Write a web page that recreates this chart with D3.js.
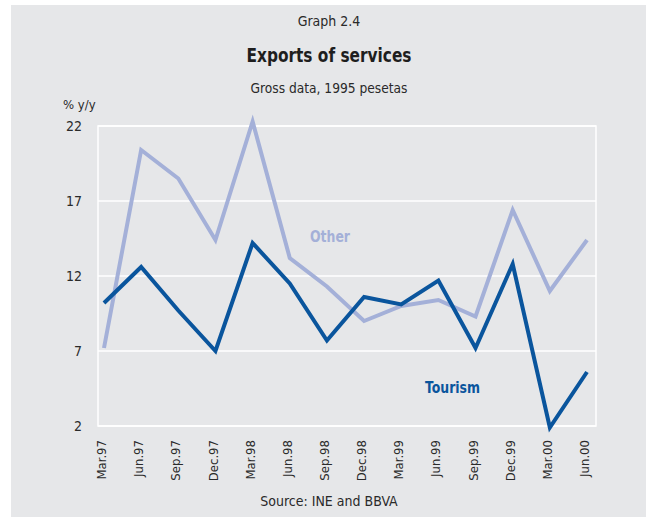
<!DOCTYPE html>
<html>
<head>
<meta charset="utf-8">
<script src="https://cdn.jsdelivr.net/npm/d3@7"></script>
<style>
  html, body { margin: 0; padding: 0; background: #ffffff; }
  svg { display: block; }
  text { font-family: "Liberation Sans Narrow", "DejaVu Sans Condensed", "Liberation Sans", sans-serif; }
</style>
</head>
<body>
<svg id="chart" width="646" height="517"></svg>
<script>
// Quarterly periods
const quarters = ["Mar.97", "Jun.97", "Sep.97", "Dec.97", "Mar.98", "Jun.98", "Sep.98",
                  "Dec.98", "Mar.99", "Jun.99", "Sep.99", "Dec.99", "Mar.00", "Jun.00"];
// Year-on-year growth, % (gross data, 1995 pesetas)
const tourism = [10.2, 12.6, 9.7, 7.0, 14.2, 11.5, 7.7, 10.6, 10.1, 11.7, 7.2, 12.8, 1.9, 5.6];
const other   = [7.2, 20.4, 18.5, 14.4, 22.3, 13.2, 11.3, 9.0, 10.0, 10.4, 9.3, 16.4, 11.0, 14.4];
const yTicks  = [2, 7, 12, 17, 22];

const svg = d3.select("#chart");
const W = 646, H = 517;

// Grey panel
svg.append("rect").attr("x", 11).attr("y", 5).attr("width", W - 11).attr("height", H - 5)
  .attr("fill", "#e6e7e9");

const plot = { left: 98, top: 126, right: 596, bottom: 426 };
const cx = 329;

// Headings
svg.append("text").attr("x", cx).attr("y", 26).attr("text-anchor", "middle")
  .attr("font-size", 14).attr("fill", "#2a2a2a").text("Graph 2.4");
svg.append("text").attr("x", cx).attr("y", 62).attr("text-anchor", "middle")
  .attr("font-size", 19).attr("font-weight", "bold").attr("fill", "#1e1e1e")
  .attr("textLength", 165).attr("lengthAdjust", "spacingAndGlyphs")
  .text("Exports of services");
svg.append("text").attr("x", cx).attr("y", 93).attr("text-anchor", "middle")
  .attr("font-size", 14).attr("fill", "#2a2a2a")
  .attr("textLength", 157).attr("lengthAdjust", "spacingAndGlyphs")
  .text("Gross data, 1995 pesetas");
svg.append("text").attr("x", 63).attr("y", 109)
  .attr("font-size", 13).attr("fill", "#2a2a2a").text("% y/y");

const x = d3.scalePoint().domain(quarters).range([plot.left + 6, plot.right - 9]);
const y = d3.scaleLinear().domain([2, 22]).range([plot.bottom, plot.top]);

// Gridlines
svg.append("g").selectAll("line").data(yTicks).join("line")
  .attr("x1", plot.left).attr("x2", plot.right)
  .attr("y1", d => y(d)).attr("y2", d => y(d))
  .attr("stroke", "#ffffff").attr("stroke-width", 1.5);
// Frame
svg.append("rect").attr("x", plot.left).attr("y", plot.top)
  .attr("width", plot.right - plot.left).attr("height", plot.bottom - plot.top)
  .attr("fill", "none").attr("stroke", "#ffffff").attr("stroke-width", 1.5);

// Y axis
const yAxis = svg.append("g").attr("transform", `translate(${plot.left},0)`)
  .call(d3.axisLeft(y).tickValues(yTicks).tickSize(0).tickPadding(16));
yAxis.select(".domain").remove();
yAxis.selectAll("text").attr("font-size", 14).attr("fill", "#2a2a2a")
  .style("font-family", "'Liberation Sans Narrow', 'DejaVu Sans Condensed', sans-serif");

// X axis
const xAxis = svg.append("g").attr("transform", `translate(0,${plot.bottom})`)
  .call(d3.axisBottom(x).tickSize(0));
xAxis.select(".domain").remove();
xAxis.selectAll("text")
  .attr("font-size", 13).attr("fill", "#2a2a2a")
  .style("font-family", "'Liberation Sans Narrow', 'DejaVu Sans Condensed', sans-serif")
  .attr("text-anchor", "end")
  .attr("transform", "rotate(-90)")
  .attr("x", -14).attr("y", -3).attr("dy", "0.35em");

// Series lines
const line = values => d3.line().x((d, i) => x(quarters[i])).y(d => y(d))(values);
svg.append("path").attr("d", line(other)).attr("fill", "none")
  .attr("stroke", "#a4b0d8").attr("stroke-width", 4).attr("stroke-linejoin", "miter");
svg.append("path").attr("d", line(tourism)).attr("fill", "none")
  .attr("stroke", "#0a559d").attr("stroke-width", 4).attr("stroke-linejoin", "miter");

// Series labels
svg.append("text").attr("x", 310).attr("y", 242).attr("font-size", 15).attr("font-weight", "bold")
  .attr("fill", "#a4b0d8").attr("textLength", 40).attr("lengthAdjust", "spacingAndGlyphs")
  .text("Other");
svg.append("text").attr("x", 425).attr("y", 393).attr("font-size", 15).attr("font-weight", "bold")
  .attr("fill", "#0a559d").attr("textLength", 55).attr("lengthAdjust", "spacingAndGlyphs")
  .text("Tourism");

// Source
svg.append("text").attr("x", cx).attr("y", 506).attr("text-anchor", "middle")
  .attr("font-size", 14).attr("fill", "#2a2a2a").text("Source: INE and BBVA");
</script>
</body>
</html>
